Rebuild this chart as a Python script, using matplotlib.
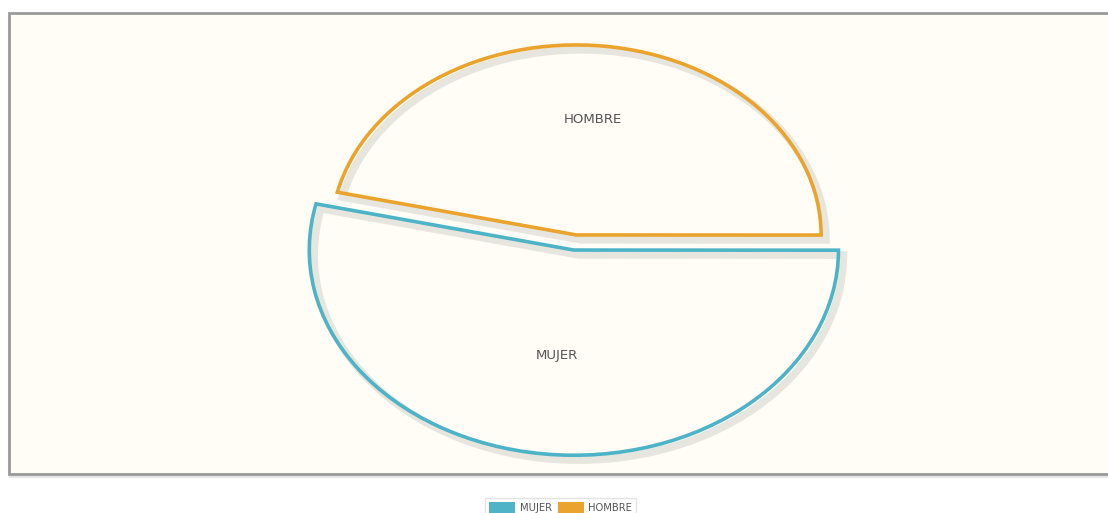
"""Two-slice outline pie (MUJER / HOMBRE) with soft shadows."""

import matplotlib
matplotlib.use("Agg")
import matplotlib.pyplot as plt
import matplotlib.patheffects as pe
from matplotlib.patches import Rectangle

# data
labels = ["MUJER", "HOMBRE"]
values = [53.6, 46.4]
colors = ["#4DB3C7", "#EAA32C"]

W, H = 1108, 513
BG = "#FFFDF6"

plt.rcParams["font.family"] = ["DejaVu Sans"]

fig = plt.figure(figsize=(W / 100, H / 100), dpi=100, facecolor="white")

# chart frame
frame = Rectangle((9 / W, (H - 474) / H), (W + 10) / W, (474 - 13) / H,
                  transform=fig.transFigure, facecolor=BG, edgecolor="#9a9a9a",
                  linewidth=2, zorder=-5,
                  path_effects=[pe.SimplePatchShadow(offset=(0, -3), shadow_rgbFace="#cccccc", alpha=0.5),
                                pe.Normal()])
fig.patches.append(frame)

# pie axes: hombre radius = 245 px wide, 190 px tall
cx, cy = 575, 242.5
ax = fig.add_axes([(cx - 1.25 * 245) / W, (H - cy - 1.25 * 190) / H,
                   2.5 * 245 / W, 2.5 * 190 / H])
ax.set_facecolor("none")
ax.set_zorder(2)

wedges, texts = ax.pie(values, labels=labels, colors=colors, startangle=167,
                       explode=[0.04, 0.04], labeldistance=0.61,
                       wedgeprops=dict(linewidth=2.6, joinstyle="miter"),
                       textprops=dict(color="#555555", fontsize=9.5, ha="center", va="center"))

for w, c in zip(wedges, colors):
    w.set_facecolor("none")
    w.set_edgecolor(c)
    w.set_path_effects([pe.SimpleLineShadow(offset=(3.5, -3.5), shadow_color="#c4c4bc",
                                            alpha=0.4, linewidth=5.5),
                        pe.Normal()])

# the mujer slice is drawn a bit larger, its label sits a bit closer in
wedges[0].set_radius(1.08)
tx, ty = texts[0].get_position()
texts[0].set_position((tx, ty * 0.92))

ax.set_aspect("auto")
ax.set_xlim(-1.25, 1.25)
ax.set_ylim(-1.25, 1.25)
ax.axis("off")

# legend
leg = fig.legend(wedges, labels, loc="lower center", bbox_to_anchor=(0.506, -0.018),
                 ncol=2, fontsize=7.2, frameon=True, fancybox=False,
                 handlelength=2.6, handleheight=1.4, handletextpad=0.45,
                 columnspacing=0.6, borderpad=0.4, labelcolor="#555555")
leg.get_frame().set_edgecolor("#dddddd")
leg.get_frame().set_linewidth(1)
for h, c in zip(leg.legend_handles, colors):
    h.set_facecolor(c)
    h.set_edgecolor("none")
    h.set_path_effects([])

fig.savefig("out.png", dpi=100, facecolor="white")
